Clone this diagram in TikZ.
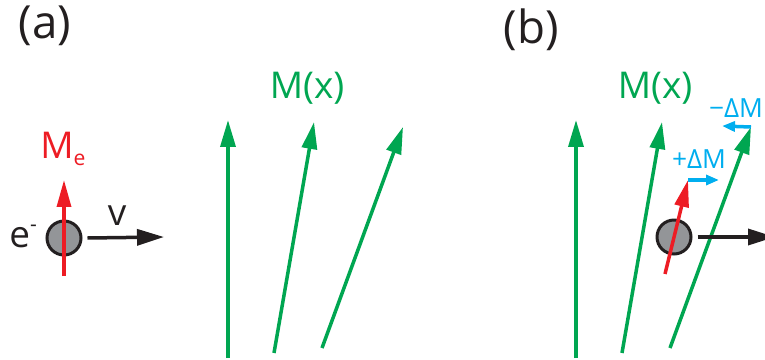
\documentclass[tikz,border=0pt]{standalone}
\usepackage{fontspec}
\setmainfont{Open Sans}
\usetikzlibrary{arrows.meta, positioning}

\definecolor{fieldgreen}{RGB}{0,166,81}
\definecolor{spinred}{RGB}{237,28,36}
\definecolor{deltablue}{RGB}{0,174,239}
\definecolor{dotgray}{RGB}{147,149,152}
\definecolor{inkblack}{RGB}{35,31,32}

\begin{document}
\begin{tikzpicture}[
    x=0.02cm, y=-0.02cm,
    field/.style={draw=fieldgreen, line width=0.07cm, -{Triangle[length=0.54cm, width=0.3cm]}},
    spin/.style={draw=spinred, line width=0.07cm, -{Triangle[length=0.54cm, width=0.28cm]}},
    velocity/.style={draw=inkblack, line width=0.07cm, -{Triangle[length=0.54cm, width=0.32cm]}},
    deltaarrow/.style={draw=deltablue, line width=0.07cm, -{Triangle[length=0.26cm, width=0.2cm]}},
    electron/.style={circle, draw=inkblack, fill=dotgray, line width=0.06cm, minimum size=0.68cm, inner sep=0pt},
    panel/.style={font=\fontsize{26}{30}\selectfont, text=inkblack},
    biglabel/.style={font=\fontsize{21}{24}\selectfont, inner sep=0pt},
    smalllabel/.style={font=\fontsize{15}{17}\selectfont, text=deltablue, inner sep=0pt}
]
    \clip (0,0) rectangle (765,359);

    % Panel labels
    \node[panel] (pa) at (45,26) {(a)};
    \node[panel] (pb) at (531,30) {(b)};

    % Magnetization M(x), same in both panels
    \foreach \dx/\p in {0/a, 348/b} {
        \coordinate (\p1s) at (228+\dx,358);
        \coordinate (\p1t) at (228+\dx,120);
        \coordinate (\p2s) at (274+\dx,353);
        \coordinate (\p2t) at (314+\dx,122);
        \coordinate (\p3s) at (322+\dx,348);
        \coordinate (\p3t) at (403+\dx,127);
        \draw[field] (\p1s) -- (\p1t);
        \draw[field] (\p2s) -- (\p2t);
        \draw[field] (\p3s) -- (\p3t);
        \node[biglabel, text=fieldgreen, anchor=base] (mx\p) at (307+\dx,98) {M(x)};
    }

    % Electron (a)
    \node[electron] (ea) at (64,238) {};
    \coordinate (sas) at (64,276);
    \coordinate (sat) at (64,180);
    \draw[spin] (sas) -- (sat);
    \coordinate (vat) at (164,237);
    \draw[velocity] (ea.east) ++(5,0) coordinate (vas) -- (vat);
    \node[biglabel, text=spinred, anchor=base west] (mea) at (40,158)
        {M\raisebox{-4pt}{\fontsize{12}{13}\selectfont e}};
    \node[biglabel, text=inkblack, anchor=base west] (lea) at (9,247)
        {e\raisebox{9pt}{\fontsize{12}{13}\selectfont -}};
    \node[biglabel, text=inkblack, anchor=base] (va) at (117,225) {v};

    % Electron (b)
    \node[electron] (eb) at (674,237) {};
    \coordinate (sbs) at (665,274);
    \coordinate (sbt) at (688,180);
    \draw[spin] (sbs) -- (sbt);
    \coordinate (vbt) at (775,237);
    \draw[velocity] (eb.east) ++(5,0) coordinate (vbs) -- (vbt);

    % Changes of M
    \coordinate (dpt) at (719,180);
    \draw[deltaarrow] (sbt) -- (dpt);
    \node[smalllabel, anchor=base] (dp) at (699,168) {+ΔM};
    \coordinate (dmt) at (722,126);
    \draw[deltaarrow] (b3t) -- (dmt);
    \node[smalllabel, anchor=base] (dm) at (736,117) {−ΔM};

\end{tikzpicture}
\end{document}
